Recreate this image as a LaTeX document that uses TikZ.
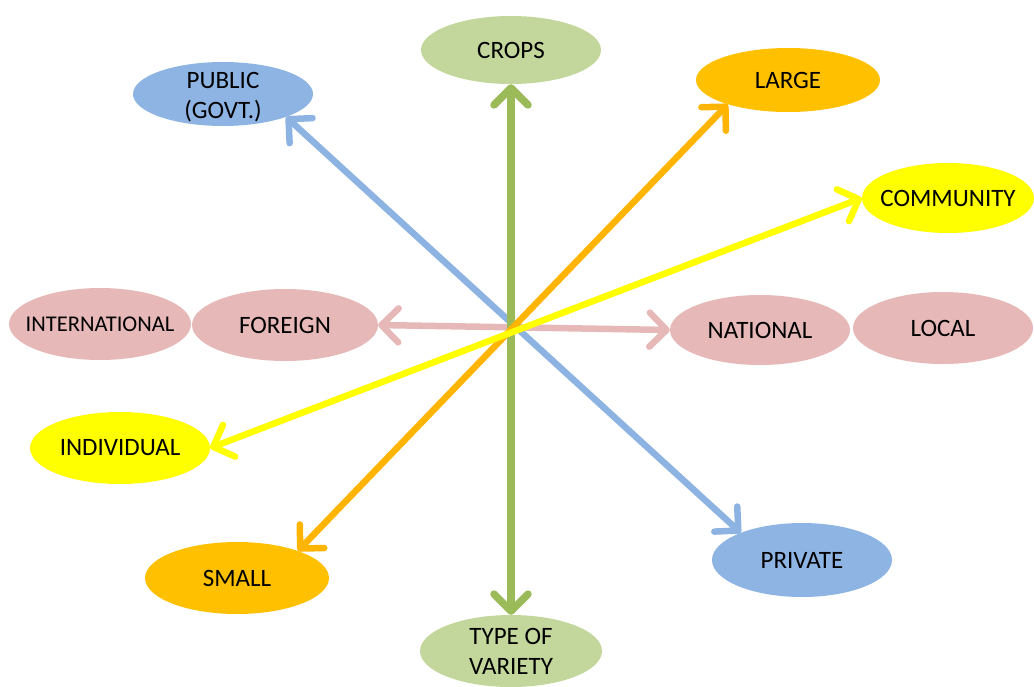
\documentclass[tikz,border=0pt]{standalone}
\usepackage{fontspec}
\setmainfont{Carlito}
\usetikzlibrary{shapes.geometric,arrows.meta}
\definecolor{cgreen}{HTML}{C3D69B}
\definecolor{agreen}{HTML}{9BBB59}
\definecolor{cblue}{HTML}{8EB4E3}
\definecolor{ablue}{HTML}{8DB3E2}
\definecolor{corange}{HTML}{FFC000}
\definecolor{aorange}{HTML}{FFB400}
\definecolor{cyellow}{HTML}{FFFF00}
\definecolor{cpink}{HTML}{E6B9B8}
\tikzset{
  ell/.style={ellipse, draw=none, inner sep=0pt},
  every label/.style={font=\fontsize{25}{30}\selectfont, align=center, inner sep=0pt},
  barb/.tip={Straight Barb[length=17pt,width=34pt,round]},
  dblarrow/.style={line width=6.5pt, line cap=round, barb-barb},
}
\begin{document}
\begin{tikzpicture}[x=1pt,y=1pt]
\useasboundingbox (0,0) rectangle (1034,-686);
\node[ell, fill=cgreen, minimum width=180pt, minimum height=68pt, label={center:CROPS}] (crops) at (511,-50) {};
\node[ell, fill=cblue, minimum width=180pt, minimum height=64pt, label={[yshift=-3pt]center:{PUBLIC\\(GOVT.)}}] (pub) at (223,-94) {};
\node[ell, fill=corange, minimum width=184pt, minimum height=64pt, label={center:LARGE}] (large) at (788,-80) {};
\node[ell, fill=cyellow, minimum width=172pt, minimum height=70pt, label={center:COMMUNITY}] (comm) at (948,-198) {};
\node[ell, fill=cpink, minimum width=182pt, minimum height=72pt, label={[font=\fontsize{22.5}{27}\selectfont]center:INTERNATIONAL}] (intl) at (100,-324) {};
\node[ell, fill=cpink, minimum width=186pt, minimum height=72pt, label={center:FOREIGN}] (foreign) at (285,-325) {};
\node[ell, fill=cpink, minimum width=180pt, minimum height=70pt, label={center:NATIONAL}] (natl) at (760,-330) {};
\node[ell, fill=cpink, minimum width=180pt, minimum height=72pt, label={center:LOCAL}] (local) at (943,-328) {};
\node[ell, fill=cyellow, minimum width=180pt, minimum height=72pt, label={center:INDIVIDUAL}] (indiv) at (120,-448) {};
\node[ell, fill=corange, minimum width=184pt, minimum height=72pt, label={center:SMALL}] (small) at (237,-578) {};
\node[ell, fill=cblue, minimum width=180pt, minimum height=74pt, label={center:PRIVATE}] (priv) at (802,-560) {};
\node[ell, fill=cgreen, minimum width=182pt, minimum height=72pt, label={center:{TYPE OF\\VARIETY}}] (tvar) at (511,-651) {};
\draw[dblarrow, cpink] (foreign.east) -- (natl.west);
\draw[dblarrow, ablue] (pub.-20) -- (priv.156);
\draw[dblarrow, agreen, line width=7.5pt] (crops.south) -- (tvar.north);
\draw[dblarrow, aorange] (small.24) -- (large.202);
\draw[dblarrow, cyellow] (indiv.east) -- (comm.west);
\end{tikzpicture}
\end{document}
